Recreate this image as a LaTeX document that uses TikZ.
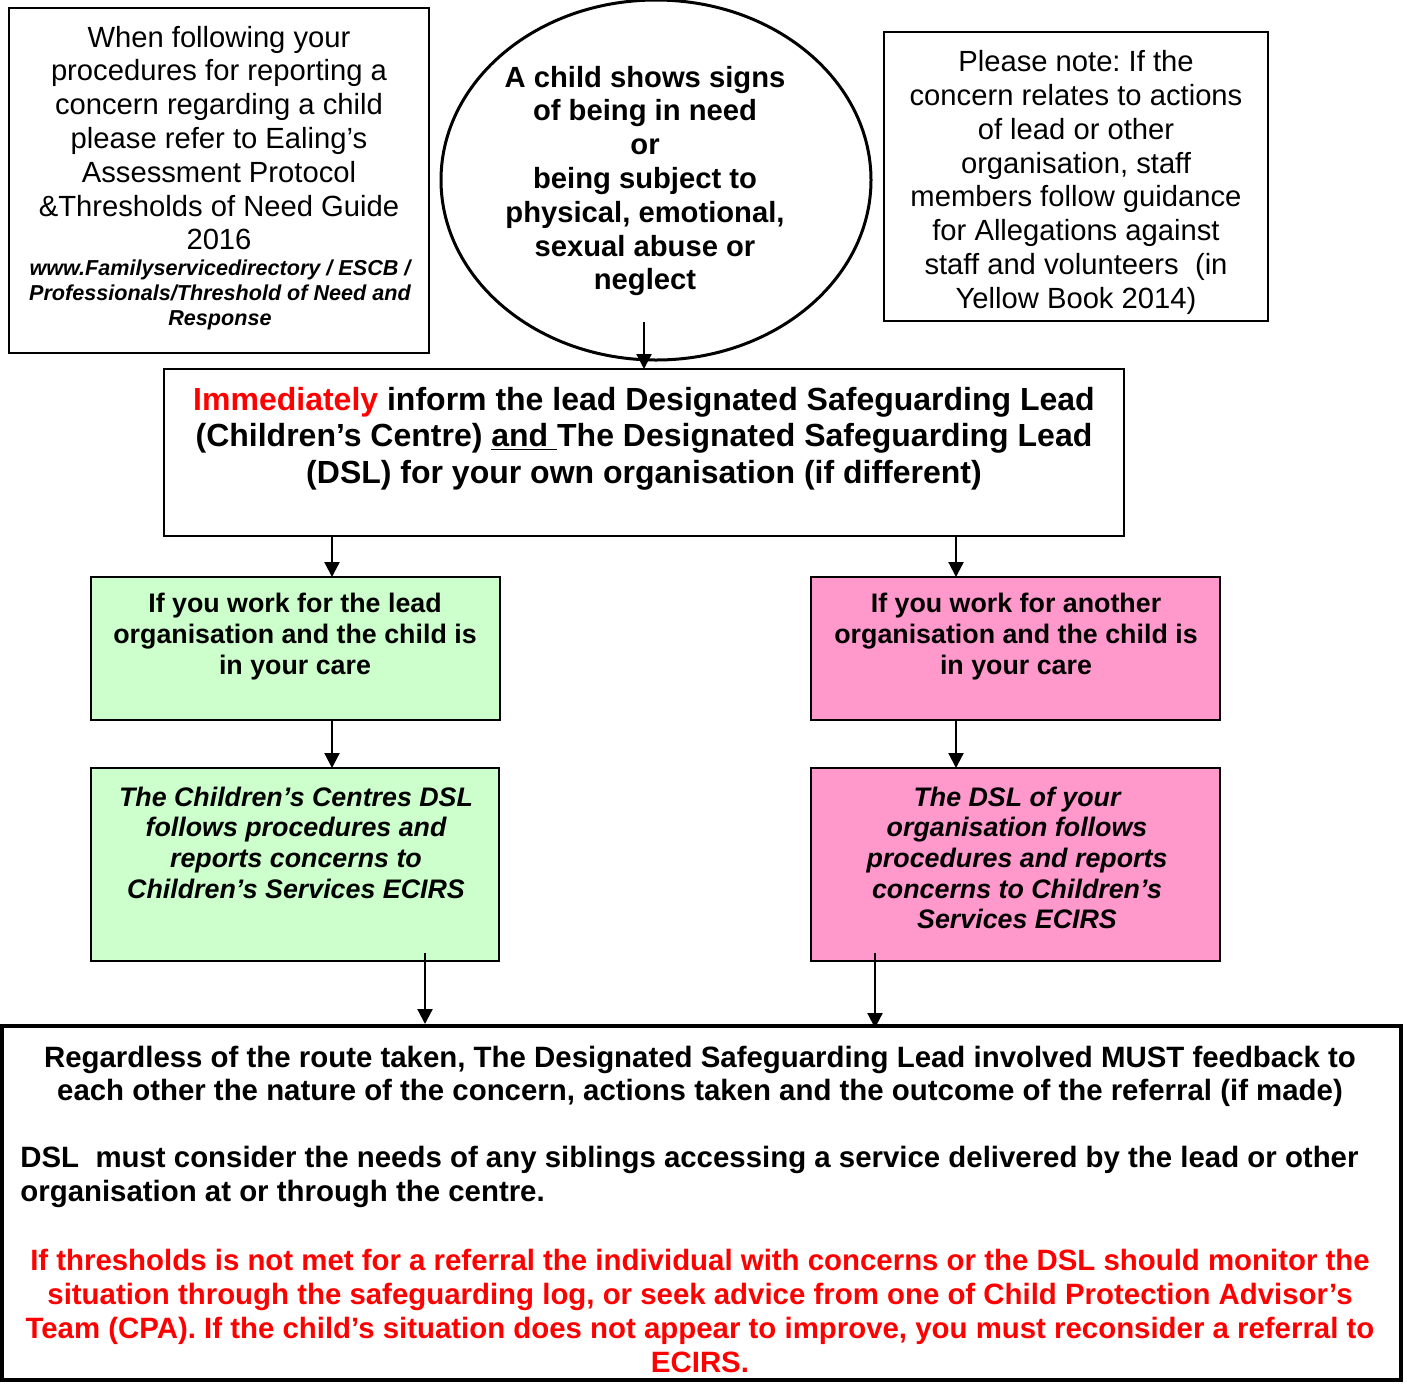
\documentclass[tikz,border=0pt]{standalone}
\usepackage{fontspec}
\setmainfont{Liberation Sans}
\usetikzlibrary{shapes.geometric,arrows.meta}
\definecolor{lgreen}{HTML}{CCFFCC}
\definecolor{lpink}{HTML}{FF99CC}
\definecolor{myred}{HTML}{FF0000}
\frenchspacing
\begin{document}
\begin{tikzpicture}[x=0.5pt,y=-0.5pt,
  frame/.style={draw=black, line width=0.8pt, rectangle, inner sep=0pt, outer sep=0pt},
  txt/.style={align=center, inner sep=0pt},
  arr/.style={draw=black, line width=1.1pt, -{Triangle[width=7.5pt,length=7.5pt]}},
  regfont/.style={font=\fontsize{14.6}{16.9}\selectfont},
  boldfont/.style={font=\fontsize{14.6}{16.9}\selectfont\bfseries},
]
\useasboundingbox (0,0) rectangle (1407,1383);

% top-left box
\node[frame, minimum width=210pt, minimum height=172.5pt] (tl) at (219,180.5) {};
\node[txt, regfont] (tlt) at (219,138) {When following your\\procedures for reporting a\\concern regarding a child\\please refer to Ealing’s\\Assessment Protocol\\\&Thresholds of Need Guide\\2016};
\node[txt, font=\fontsize{10.8}{12.5}\selectfont\bfseries\itshape] (tlu) at (220,295) {www.Familyservicedirectory / ESCB /\\Professionals/Threshold of Need and\\Response};

% ellipse
\node[draw=black, line width=1.5pt, ellipse, minimum width=215pt, minimum height=180pt, inner sep=0pt] (ell) at (656,180) {};
\node[txt, boldfont] (ellt) at (645,181) {A child shows signs\\of being in need\\or\\being subject to\\physical, emotional,\\sexual abuse or\\neglect};

% top-right box
\node[frame, minimum width=192pt, minimum height=144.5pt] (tr) at (1076,176.5) {};
\node[txt, regfont] (trt) at (1076,182.5) {Please note: If the\\concern relates to actions\\of lead or other\\organisation, staff\\members follow guidance\\for Allegations against\\staff and volunteers~~(in\\Yellow Book 2014)};

% main box
\node[frame, minimum width=480pt, minimum height=83.5pt] (main) at (644,452.5) {};
\node[txt, font=\fontsize{16}{18.25}\selectfont\bfseries] (maint) at (644,438.5) {\textcolor{myred}{Immediately} inform the lead Designated Safeguarding Lead\\(Children’s Centre) \underline{and~}The Designated Safeguarding Lead\\(DSL) for your own organisation (if different)};

% green / pink boxes
\node[frame, fill=lgreen, minimum width=204.5pt, minimum height=71.5pt] (g1) at (295.5,648.5) {};
\node[txt, font=\fontsize{13.4}{15.5}\selectfont\bfseries] (g1t) at (295,637) {If you work for the lead\\organisation and the child is\\in your care};
\node[frame, fill=lpink, minimum width=204.5pt, minimum height=71.5pt] (p1) at (1015.5,648.5) {};
\node[txt, font=\fontsize{13.4}{15.5}\selectfont\bfseries] (p1t) at (1016,637) {If you work for another\\organisation and the child is\\in your care};

\node[frame, fill=lgreen, minimum width=204pt, minimum height=96.5pt] (g2) at (295,864.5) {};
\node[txt, font=\fontsize{13.4}{15.35}\selectfont\bfseries\itshape] (g2t) at (296,842.5) {The Children’s Centres DSL\\follows procedures and\\reports concerns to\\Children’s Services ECIRS};
\node[frame, fill=lpink, minimum width=204.5pt, minimum height=96.5pt] (p2) at (1015.5,864.5) {};
\node[txt, font=\fontsize{13.4}{15.35}\selectfont\bfseries\itshape] (p2t) at (1017,858) {The DSL of your\\organisation follows\\procedures and reports\\concerns to Children’s\\Services ECIRS};

% bottom box
\node[draw=black, line width=2pt, rectangle, inner sep=0pt, minimum width=699.5pt, minimum height=177pt] (bot) at (701.5,1203) {};
\node[txt, font=\fontsize{14.7}{16.6}\selectfont\bfseries] (b1) at (700,1076.5) {Regardless of the route taken, The Designated Safeguarding Lead involved MUST feedback to\\each other the nature of the concern, actions taken and the outcome of the referral (if made)};
\node[align=left, inner sep=0pt, anchor=west, font=\fontsize{14.7}{16.9}\selectfont\bfseries] (b2) at (20,1177) {DSL~~must consider the needs of any siblings accessing a service delivered by the lead or other\\organisation at or through the centre.};
\node[txt, text=myred, font=\fontsize{14.7}{16.9}\selectfont\bfseries] (b3) at (700,1311) {If thresholds is not met for a referral the individual with concerns or the DSL should monitor the\\situation through the safeguarding log, or seek advice from one of Child Protection Advisor’s\\Team (CPA). If the child’s situation does not appear to improve, you must reconsider a referral to\\ECIRS.};

% connectors
\coordinate (a0) at (644,322);
\draw[arr] (a0) -- (a0 |- main.north);
\coordinate (xl) at (332,0);
\coordinate (xr) at (956,0);
\draw[arr] (main.south -| xl) -- (g1.north -| xl);
\draw[arr] (main.south -| xr) -- (p1.north -| xr);
\draw[arr] (g1.south -| xl) -- (g2.north -| xl);
\draw[arr] (p1.south -| xr) -- (p2.north -| xr);
\coordinate (bl) at (425,953);
\coordinate (br) at (875,953);
\draw[arr] (bl) -- (bl |- bot.north);
\draw[arr] (br) -- ([yshift=-2pt]br |- bot.north);
\end{tikzpicture}
\end{document}
